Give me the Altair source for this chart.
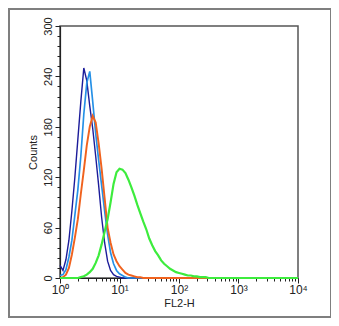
import altair as alt
import pandas as pd

# decade position of each histogram channel (log10 of FL2-H)
decades = [0.00, 0.05, 0.10, 0.15, 0.20, 0.25, 0.30, 0.35, 0.40, 0.45,
           0.50, 0.55, 0.60, 0.65, 0.70, 0.75, 0.80, 0.85, 0.90, 0.95,
           1.00, 1.05, 1.10, 1.15, 1.20, 1.25, 1.30, 1.35, 1.40, 1.45,
           1.50, 1.55, 1.60, 1.65, 1.70, 1.75, 1.80, 1.85, 1.90, 1.95,
           2.00, 2.05, 2.10, 2.15, 2.20, 2.25, 2.30, 2.35, 2.40, 2.45,
           2.50, 4.00]

navy = [15, 9, 22, 45, 80, 120, 165, 210, 250, 235,
        205, 178, 145, 110, 72, 42, 20, 9, 4, 2,
        1, 0, 0, 0, 0, 0, 0, 0, 0, 0,
        0, 0, 0, 0, 0, 0, 0, 0, 0, 0,
        0, 0, 0, 0, 0, 0, 0, 0, 0, 0,
        0, 0]

lightblue = [3, 4, 10, 25, 45, 75, 105, 145, 195, 232,
             246, 210, 172, 140, 110, 80, 52, 30, 17, 9,
             5, 3, 1, 0, 0, 0, 0, 0, 0, 0,
             0, 0, 0, 0, 0, 0, 0, 0, 0, 0,
             0, 0, 0, 0, 0, 0, 0, 0, 0, 0,
             0, 0]

orange = [0, 1, 4, 12, 28, 48, 70, 100, 128, 158,
          180, 193, 185, 160, 130, 95, 60, 42, 28, 20,
          14, 10, 6, 4, 3, 2, 1, 1, 0, 0,
          0, 0, 0, 0, 0, 0, 0, 0, 0, 0,
          0, 0, 0, 0, 0, 0, 0, 0, 0, 0,
          0, 0]

green = [0, 0, 0, 0, 0, 0, 0, 1, 2, 4,
         7, 11, 18, 27, 40, 55, 70, 90, 112, 126,
         130, 129, 125, 117, 108, 98, 87, 77, 67, 58,
         47, 39, 32, 27, 21, 17, 14, 11, 9, 7,
         6, 5, 4, 3, 3, 2, 2, 1, 1, 1,
         0, 0]

series_names = ["navy", "lightblue", "orange", "green"]
series_colors = ["#1c1c9a", "#2590e6", "#f0621e", "#3dec3d"]
series_widths = [1.4, 2.2, 2.2, 2.2]

y_ticks = list(range(0, 301, 12))
x_ticks = [1, 2, 3, 4, 5, 6, 7, 8, 9,
           10, 20, 30, 40, 50, 60, 70, 80, 90,
           100, 200, 300, 400, 500, 600, 700, 800, 900,
           1000, 2000, 3000, 4000, 5000, 6000, 7000, 8000, 9000, 10000]

rows = []
for name, counts in zip(series_names, [navy, lightblue, orange, green]):
    for d, c in zip(decades, counts):
        rows.append({"series": name, "fl2h": 10 ** d, "count": c})
df = pd.DataFrame(rows)

font = "Liberation Sans"

x_label_expr = ("datum.value == 1 ? '10⁰' : datum.value == 10 ? '10¹' : "
                "datum.value == 100 ? '10²' : datum.value == 1000 ? '10³' : "
                "datum.value == 10000 ? '10⁴' : ''")

lines = alt.Chart(df).mark_line(interpolate="linear").encode(
    x=alt.X("fl2h:Q",
            scale=alt.Scale(type="log", domain=[1, 10000], nice=False),
            axis=alt.Axis(title="FL2-H", values=x_ticks, labelExpr=x_label_expr,
                          labelOverlap=False, labelFlush=False, grid=False,
                          tickSize={"condition": {"test": "indexof([1,10,100,1000,10000], datum.value) >= 0", "value": 5}, "value": 3},
                          titlePadding=2, labelPadding=1, labelFontSize=12)),
    y=alt.Y("count:Q",
            scale=alt.Scale(domain=[0, 300], nice=False),
            axis=alt.Axis(title="Counts", values=y_ticks,
                          labelExpr="datum.value % 60 === 0 ? datum.label : ''",
                          labelOverlap=False, labelFlush=False, grid=False,
                          labelAngle=270, labelAlign="center", labelBaseline="bottom",
                          tickSize={"condition": {"test": "datum.value % 60 === 0", "value": 5}, "value": 3},
                          titlePadding=4, labelPadding=2)),
    color=alt.Color("series:N", scale=alt.Scale(domain=series_names, range=series_colors), legend=None),
    strokeWidth=alt.StrokeWidth("series:N", scale=alt.Scale(domain=series_names, range=series_widths), legend=None),
)

frame = alt.Chart(pd.DataFrame({"a": [0]})).mark_rect(
    filled=False, stroke="#7f7f7f", strokeWidth=2
).encode(
    x=alt.value(-51), x2=alt.value(271), y=alt.value(-17), y2=alt.value(291)
)

chart = alt.layer(lines, frame).properties(
    width=238, height=252,
    autosize=alt.AutoSizeParams(type="none"),
    padding={"left": 52, "top": 18, "right": 33, "bottom": 40},
).configure_view(
    stroke="#555555", strokeWidth=1.5
).configure_axis(
    labelFont=font, titleFont=font, labelFontSize=11, titleFontSize=11,
    labelColor="#222222", titleColor="#222222", titleFontWeight="normal",
    domainColor="#222222", tickColor="#222222", domainWidth=1.2,
)

chart.save("out.html", embed_options={"renderer": "svg", "actions": False})
